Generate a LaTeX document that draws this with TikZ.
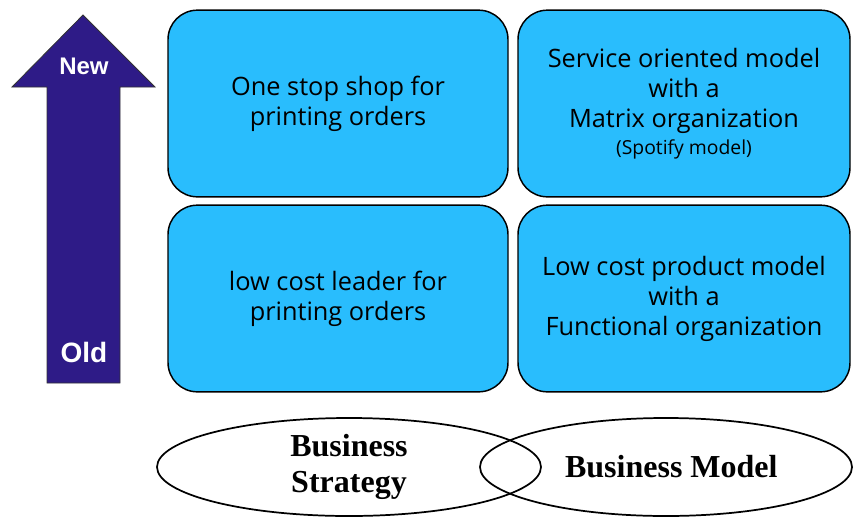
\documentclass[tikz,border=0pt]{standalone}
\usepackage{fontspec}
\usepackage{tikz}
\usetikzlibrary{shapes.geometric}
\newfontfamily\boxfont{Open Sans}
\newfontfamily\ovalfont{Liberation Serif}
\newfontfamily\arrowfont{Liberation Sans}
\definecolor{boxblue}{RGB}{41,189,253}
\definecolor{arrowpurple}{RGB}{46,27,135}

\begin{document}
\begin{tikzpicture}[x=0.75pt,y=-0.75pt,
    quad/.style={draw=black,line width=1.1pt,fill=boxblue,rounded corners=22pt,
      minimum height=140pt,align=center,inner sep=0pt,
      font=\boxfont\fontsize{19}{22.5}\selectfont},
    oval/.style={ellipse,draw=black,line width=1.3pt,minimum height=73.5pt,
      inner sep=0pt,align=center,font=\ovalfont\bfseries\fontsize{24}{27}\selectfont},
    tag/.style={text=white,font=\arrowfont\bfseries}]
  \useasboundingbox (0,0) rectangle (853,518);
  % time axis arrow
  \draw[fill=arrowpurple,draw=black!80,line width=0.6pt]
    (83,15) -- (155,87) -- (120,87) -- (120,383) -- (47,383) -- (47,87) -- (12,87) -- cycle;
  \node[tag,font=\arrowfont\bfseries\fontsize{18}{21}\selectfont] (new) at (84,66) {New};
  \node[tag,font=\arrowfont\bfseries\fontsize{21}{24}\selectfont] (old) at (84,352) {Old};
  % strategy / model grid
  \node[quad,minimum width=255pt] (shop) at (338,103.5) {One stop shop for\\printing orders};
  \node[quad,minimum width=249pt] (service) at (684,103.5)
    {Service oriented model\\with a\\Matrix organization\\[-2pt]{\fontsize{14.5}{18}\selectfont(Spotify model)}};
  \node[quad,minimum width=255pt] (leader) at (338,298.5) {low cost leader for\\printing orders};
  \node[quad,minimum width=249pt] (product) at (684,298.5)
    {Low cost product model\\with a\\Functional organization};
  % overlapping ovals
  \node[oval,minimum width=288pt] (strategy) at (349,467) {Business\\Strategy};
  \node[oval,minimum width=279pt] (model) at (666,467) {\hspace*{8pt}Business Model};
\end{tikzpicture}
\end{document}
